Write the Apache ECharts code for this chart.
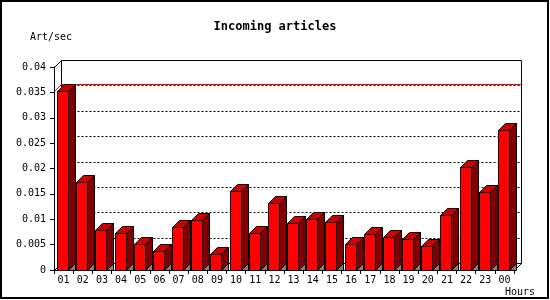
<!DOCTYPE html>
<html>
<head>
<meta charset="utf-8">
<script src="https://cdn.jsdelivr.net/npm/echarts@6/dist/echarts.min.js"></script>
<style>
html,body{margin:0;padding:0;background:#fff;}
#chart{width:550px;height:300px;}
</style>
</head>
<body>
<div id="chart"></div>
<script>
const hours = ['01','02','03','04','05','06','07','08','09','10','11','12',
               '13','14','15','16','17','18','19','20','21','22','23','00'];
const articlesPerSec = [0.0352, 0.0174, 0.0078, 0.0072, 0.0051, 0.0037, 0.0084, 0.0098,
                        0.0031, 0.0155, 0.0072, 0.0133, 0.0092, 0.0100, 0.0094, 0.0051,
                        0.0070, 0.0066, 0.0062, 0.0047, 0.0108, 0.0202, 0.0153, 0.0276];
const gridValues = [0.005, 0.01, 0.015, 0.02, 0.025, 0.03, 0.035];
const maxLineValue = [0.0353];
const yMin = 0, yMax = 0.04, yStep = 0.005;

const D = 7; // 3D depth in pixels
const px = v => Math.round(v) + 0.5;
const FONT = 'DejaVu Sans Mono';

const chart = echarts.init(document.getElementById('chart'), null, {renderer: 'canvas'});

function renderWall(params, api) {
  const cs = params.coordSys;
  const l = px(cs.x), t = px(cs.y), r = px(cs.x + cs.width), b = px(cs.y + cs.height);
  const st = {stroke: '#000', lineWidth: 1, fill: null};
  return {
    type: 'group',
    children: [
      {type: 'rect', shape: {x: l + D, y: t - D, width: r - l, height: b - t},
       style: {fill: '#fff', stroke: '#000', lineWidth: 1}},
      {type: 'line', shape: {x1: l, y1: t, x2: l + D, y2: t - D}, style: st},
      {type: 'line', shape: {x1: l, y1: b, x2: l + D, y2: b - D}, style: st},
      {type: 'line', shape: {x1: r, y1: b, x2: r + D, y2: b - D}, style: st}
    ]
  };
}

function renderGrid(params, api) {
  const cs = params.coordSys;
  const y = px(api.coord([0, api.value(1)])[1]) - D;
  return {
    type: 'line',
    shape: {x1: px(cs.x) + D, y1: y, x2: px(cs.x + cs.width) + D - 1, y2: y},
    style: {stroke: '#000', lineWidth: 1, lineDash: [2, 2]}
  };
}

function renderMax(params, api) {
  const cs = params.coordSys;
  const y = px(api.coord([0, api.value(1)])[1]);
  const l = px(cs.x), r = px(cs.x + cs.width);
  return {
    type: 'group',
    children: [
      {type: 'line', shape: {x1: l, y1: y, x2: l + D, y2: y - D},
       style: {stroke: '#ff0000', lineWidth: 1}},
      {type: 'line', shape: {x1: l + D, y1: y - D, x2: r + D, y2: y - D},
       style: {stroke: '#ff0000', lineWidth: 1}}
    ]
  };
}

function renderBar(params, api) {
  const i = api.value(0), v = api.value(1);
  const topPt = api.coord([i, v]);
  const basePt = api.coord([i, 0]);
  const bw = api.size([1, 0])[0];
  const fw = Math.round(bw * 0.58);
  const x0 = px(topPt[0] - 1 - fw / 2), x1 = x0 + fw;
  const yt = px(topPt[1]), yb = px(basePt[1]);
  const st = {stroke: '#000', lineWidth: 1};
  return {
    type: 'group',
    children: [
      {type: 'polygon', shape: {points: [[x1, yb], [x1 + D, yb - D], [x1 + D, yb]]},
       style: Object.assign({fill: '#808080'}, st)},
      {type: 'polygon', shape: {points: [[x1, yt], [x1 + D, yt - D], [x1 + D, yb - D], [x1, yb]]},
       style: Object.assign({fill: '#800000'}, st)},
      {type: 'polygon', shape: {points: [[x0, yt], [x0 + D, yt - D], [x1 + D, yt - D], [x1, yt]]},
       style: Object.assign({fill: '#cc0000'}, st)},
      {type: 'rect', shape: {x: x0, y: yt, width: fw, height: yb - yt},
       style: Object.assign({fill: '#ff0000'}, st)}
    ]
  };
}

chart.setOption({
  animation: false,
  backgroundColor: '#fff',
  title: {
    text: 'Incoming articles',
    left: 'center',
    top: 21,
    padding: 0,
    textStyle: {fontFamily: FONT, fontWeight: 'bold', fontSize: 12, color: '#000'}
  },
  grid: {left: 54, right: 36, top: 67, bottom: 30, containLabel: false},
  xAxis: {
    type: 'category',
    data: hours,
    boundaryGap: true,
    axisLine: {show: true, onZero: false, lineStyle: {color: '#000', width: 1}},
    axisTick: {show: true, length: 4, inside: false, alignWithLabel: false, lineStyle: {color: '#000'}},
    axisLabel: {color: '#000', fontFamily: FONT, fontSize: 10, margin: 5, interval: 0},
    splitLine: {show: false}
  },
  yAxis: {
    type: 'value',
    min: yMin, max: yMax, interval: yStep,
    axisLine: {show: true, lineStyle: {color: '#000', width: 1}},
    axisTick: {show: true, length: 4, inside: false, lineStyle: {color: '#000'}},
    axisLabel: {color: '#000', fontFamily: FONT, fontSize: 10, margin: 8},
    splitLine: {show: false}
  },
  graphic: [
    {type: 'rect', shape: {x: 1, y: 1, width: 547, height: 297},
     style: {fill: null, stroke: '#000', lineWidth: 2}, z: 100},
    {type: 'text', left: 30, top: 32,
     style: {text: 'Art/sec', font: '10px "DejaVu Sans Mono"', fill: '#000'}},
    {type: 'text', left: 505, top: 287,
     style: {text: 'Hours', font: '10px "DejaVu Sans Mono"', fill: '#000'}}
  ],
  series: [
    {type: 'custom', z: 1, renderItem: renderWall, data: [[0, 0]], silent: true},
    {type: 'custom', z: 2, renderItem: renderGrid, data: gridValues.map(v => [0, v]), silent: true},
    {type: 'custom', z: 3, renderItem: renderMax, itemStyle: {color: '#ff0000'},
     data: maxLineValue.map(v => [0, v]), silent: true},
    {type: 'custom', z: 4, renderItem: renderBar, encode: {x: 0, y: 1},
     data: articlesPerSec.map((v, i) => [i, v])}
  ]
});
</script>
</body>
</html>
